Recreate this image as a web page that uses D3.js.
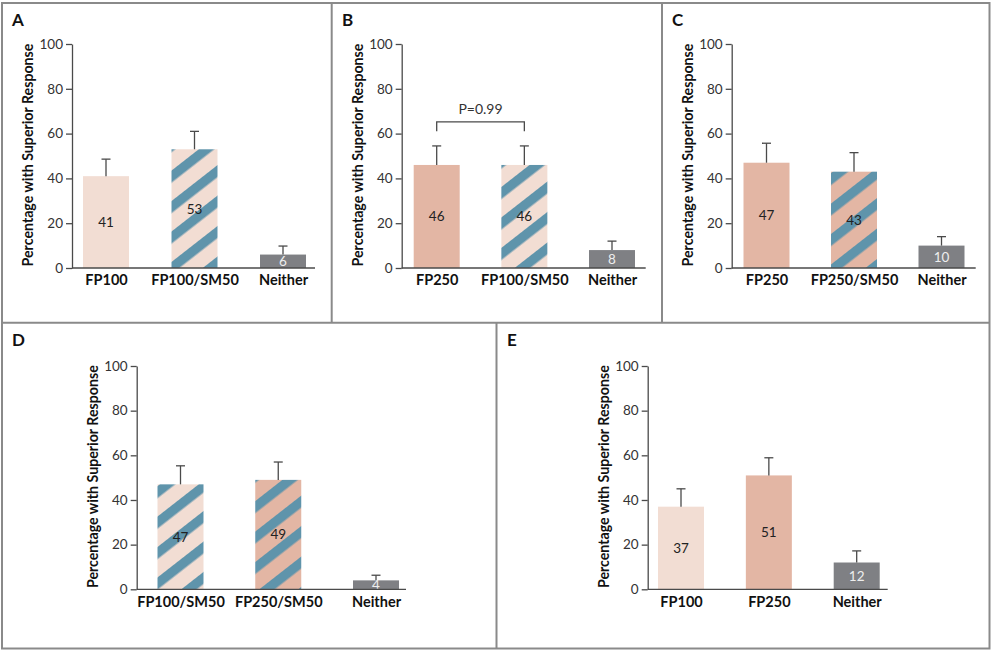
<!DOCTYPE html>
<html>
<head>
<meta charset="utf-8">
<script src="https://cdn.jsdelivr.net/npm/d3@7"></script>
<style>
  body { margin: 0; background: #fff; }
  text { font-family: Lato, "Open Sans", sans-serif; }
</style>
</head>
<body>
<div id="chart"></div>
<script>
// values (percent with superior response, upper error bar end)
const catsA = ["FP100", "FP100/SM50", "Neither"];
const valsA = [41, 53, 6];
const errA = [48.6, 61, 9.8];

const catsB = ["FP250", "FP100/SM50", "Neither"];
const valsB = [46, 46, 8];
const errB = [54.5, 54.5, 12];
const pB = "P=0.99";
const bracketB = [61, 65.2];

const catsC = ["FP250", "FP250/SM50", "Neither"];
const valsC = [47, 43, 10];
const errC = [55.7, 51.5, 14];

const catsD = ["FP100/SM50", "FP250/SM50", "Neither"];
const valsD = [47, 49, 4];
const errD = [55.3, 57, 6.3];

const catsE = ["FP100", "FP250", "Neither"];
const valsE = [37, 51, 12];
const errE = [45, 58.9, 17.2];

const yTicks = [0, 20, 40, 60, 80, 100];
const yTitle = "Percentage with Superior Response";

const W = 993, H = 651;
const lightPink = "#f2ddd3", salmon = "#e3b6a4", blue = "#5f94ab", grey = "#7f8084";
const axisCol = "#4a4a4a", borderCol = "#8a8a8a";

const svg = d3.select("#chart").append("svg")
  .attr("width", W).attr("height", H);
svg.append("rect").attr("width", W).attr("height", H).attr("fill", "#fff");

// striped patterns
const defs = svg.append("defs");
function stripes(id, bg) {
  const p = defs.append("pattern")
    .attr("id", id)
    .attr("patternUnits", "userSpaceOnUse")
    .attr("width", 24).attr("height", 24)
    .attr("patternTransform", "rotate(-38)");
  p.append("rect").attr("width", 24).attr("height", 24).attr("fill", bg);
  p.append("rect").attr("y", 0).attr("width", 24).attr("height", 9.5).attr("fill", blue);
}
stripes("stripeLight", lightPink);
stripes("stripeSalmon", salmon);

function fillFor(c) {
  if (c === "FP100") return lightPink;
  if (c === "FP250") return salmon;
  if (c === "FP100/SM50") return "url(#stripeLight)";
  if (c === "FP250/SM50") return "url(#stripeSalmon)";
  return grey;
}

// panel borders
svg.append("rect")
  .attr("x", 2).attr("y", 3).attr("width", 987.5).attr("height", 645.5)
  .attr("fill", "none").attr("stroke", borderCol).attr("stroke-width", 2);
const dividers = [
  [2, 322.7, 989.5, 322.7],
  [331.7, 3, 331.7, 322.7],
  [662, 3, 662, 322.7],
  [496.5, 322.7, 496.5, 648.5]
];
svg.selectAll("line.div").data(dividers).join("line")
  .attr("class", "div")
  .attr("x1", d => d[0]).attr("y1", d => d[1])
  .attr("x2", d => d[2]).attr("y2", d => d[3])
  .attr("stroke", borderCol).attr("stroke-width", 2);

function panel(opt, cats, vals, errs) {
  const g = svg.append("g");

  const y = d3.scaleLinear().domain([0, 100]).range([opt.y0, opt.yTop]);
  const x = d3.scalePoint().domain(cats).range(opt.centers);
  const bw = 46;

  g.append("text")
    .attr("x", opt.labelX).attr("y", opt.labelY)
    .attr("font-size", 17).attr("font-weight", 700).attr("fill", "#111")
    .text(opt.letter);

  // bars
  g.selectAll("rect.bar").data(cats).join("rect")
    .attr("class", "bar")
    .attr("x", d => x(d) - bw / 2)
    .attr("width", bw)
    .attr("y", (d, i) => y(vals[i]))
    .attr("height", (d, i) => y(0) - y(vals[i]))
    .attr("fill", d => fillFor(d));

  // error bars (upper only)
  g.selectAll("line.err").data(cats).join("line")
    .attr("x1", d => x(d)).attr("x2", d => x(d))
    .attr("y1", (d, i) => y(vals[i])).attr("y2", (d, i) => y(errs[i]))
    .attr("stroke", axisCol).attr("stroke-width", 1.3);
  g.selectAll("line.cap").data(cats).join("line")
    .attr("x1", d => x(d) - 4.5).attr("x2", d => x(d) + 4.5)
    .attr("y1", (d, i) => y(errs[i])).attr("y2", (d, i) => y(errs[i]))
    .attr("stroke", axisCol).attr("stroke-width", 1.3);

  // value labels
  g.selectAll("text.val").data(cats).join("text")
    .attr("x", d => x(d))
    .attr("y", (d, i) => y(vals[i] / 2))
    .attr("dy", "0.36em")
    .attr("text-anchor", "middle")
    .attr("font-size", 13.5)
    .attr("fill", d => d === "Neither" ? "#eeeeee" : "#222")
    .text((d, i) => vals[i]);

  // y axis
  const ya = g.append("g")
    .attr("transform", `translate(${opt.axisX},0)`)
    .call(d3.axisLeft(y).tickValues(yTicks).tickSize(6).tickPadding(3).tickSizeOuter(0));
  ya.select(".domain").attr("stroke", axisCol).attr("stroke-width", 1.3);
  ya.selectAll(".tick line").attr("stroke", axisCol).attr("stroke-width", 1.3);
  ya.selectAll(".tick text")
    .attr("font-family", "Lato, sans-serif").attr("font-size", 13.5).attr("fill", "#333");

  // x axis
  const xa = g.append("g")
    .attr("transform", `translate(0,${opt.y0})`)
    .call(d3.axisBottom(x).tickSize(0).tickPadding(7));
  xa.select(".domain")
    .attr("d", `M${opt.axisX},0H${opt.axisEnd}`)
    .attr("stroke", axisCol).attr("stroke-width", 1.3);
  xa.selectAll(".tick text")
    .attr("font-family", "Lato, sans-serif").attr("font-size", 14.5)
    .attr("font-weight", 700).attr("fill", "#111");

  // y title
  g.append("text")
    .attr("transform", `translate(${opt.axisX - 44},${(opt.y0 + opt.yTop) / 2 - 1}) rotate(-90)`)
    .attr("text-anchor", "middle")
    .attr("dy", "0.35em")
    .attr("font-size", 14.2).attr("font-weight", 700).attr("fill", "#111")
    .text(yTitle);

  return {x, y, g};
}

panel({letter: "A", labelX: 12, labelY: 26, axisX: 72, axisEnd: 315, yTop: 44, y0: 268,
       centers: [106, 283]}, catsA, valsA, errA);

const pb = panel({letter: "B", labelX: 342, labelY: 26, axisX: 401.7, axisEnd: 645.7, yTop: 44, y0: 268,
       centers: [436.7, 612]}, catsB, valsB, errB);

// comparison bracket in B
const bx0 = pb.x(catsB[0]), bx1 = pb.x(catsB[1]);
pb.g.append("path")
  .attr("d", `M${bx0},${pb.y(bracketB[0])}V${pb.y(bracketB[1])}H${bx1}V${pb.y(bracketB[0])}`)
  .attr("fill", "none").attr("stroke", axisCol).attr("stroke-width", 1.3);
pb.g.append("text")
  .attr("x", (bx0 + bx1) / 2).attr("y", pb.y(bracketB[1]) - 8)
  .attr("text-anchor", "middle").attr("font-size", 14).attr("fill", "#333")
  .text(pB);

panel({letter: "C", labelX: 672, labelY: 26, axisX: 731.7, axisEnd: 975.7, yTop: 44, y0: 268,
       centers: [766.5, 941.5]}, catsC, valsC, errC);

panel({letter: "D", labelX: 12, labelY: 346, axisX: 136.7, axisEnd: 406, yTop: 366, y0: 589.3,
       centers: [180.5, 376]}, catsD, valsD, errD);

panel({letter: "E", labelX: 507, labelY: 346, axisX: 647.7, axisEnd: 887.7, yTop: 366, y0: 589.3,
       centers: [681, 856.7]}, catsE, valsE, errE);
</script>
</body>
</html>
